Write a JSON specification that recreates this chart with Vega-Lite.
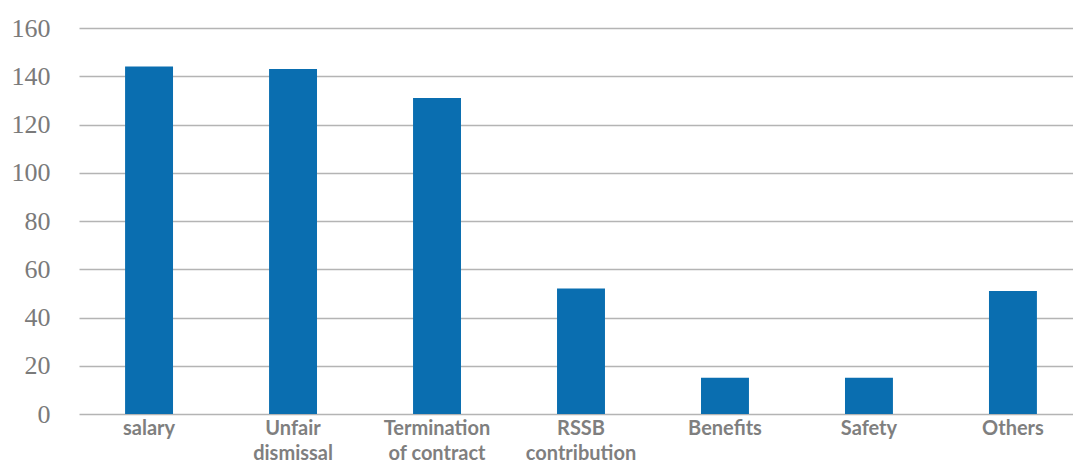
{
  "$schema": "https://vega.github.io/schema/vega-lite/v6.json",
  "autosize": {"type": "none"},
  "padding": {"left": 79, "top": 28, "right": 0, "bottom": 49},
  "width": 1004,
  "height": 386,
  "background": "white",
  "data": {
    "values": [
      {"issue": "salary", "count": 144},
      {"issue": "Unfair dismissal", "count": 143},
      {"issue": "Termination of contract", "count": 131},
      {"issue": "RSSB contribution", "count": 52},
      {"issue": "Benefits", "count": 15},
      {"issue": "Safety", "count": 15},
      {"issue": "Others", "count": 51}
    ]
  },
  "mark": {"type": "bar", "color": "#0a6eb0"},
  "encoding": {
    "x": {
      "field": "issue",
      "type": "nominal",
      "sort": null,
      "title": null,
      "scale": {"paddingInner": 0.667, "paddingOuter": 0.32},
      "axis": {
        "labelAngle": 0,
        "labelFont": "Lato",
        "labelFontWeight": "bold",
        "labelFontSize": 20,
        "labelColor": "#7f7f7f",
        "labelPadding": 4,
        "labelLineHeight": 25,
        "labelBaseline": "top",
        "ticks": false,
        "domain": false,
        "grid": false,
        "labelExpr": "datum.label == 'Unfair dismissal' ? ['Unfair', 'dismissal'] : datum.label == 'Termination of contract' ? ['Termination', 'of contract'] : datum.label == 'RSSB contribution' ? ['RSSB', 'contribution'] : datum.label"
      }
    },
    "y": {
      "field": "count",
      "type": "quantitative",
      "title": null,
      "scale": {"domain": [0, 160], "nice": false},
      "axis": {
        "values": [0, 20, 40, 60, 80, 100, 120, 140, 160],
        "labelFont": "Liberation Serif",
        "labelFontSize": 26,
        "labelColor": "#7a7a7a",
        "labelPadding": 29,
        "ticks": false,
        "domain": false,
        "grid": true,
        "gridColor": "#b4b4b4",
        "gridWidth": 1.5
      }
    }
  },
  "config": {"view": {"stroke": null}}
}
